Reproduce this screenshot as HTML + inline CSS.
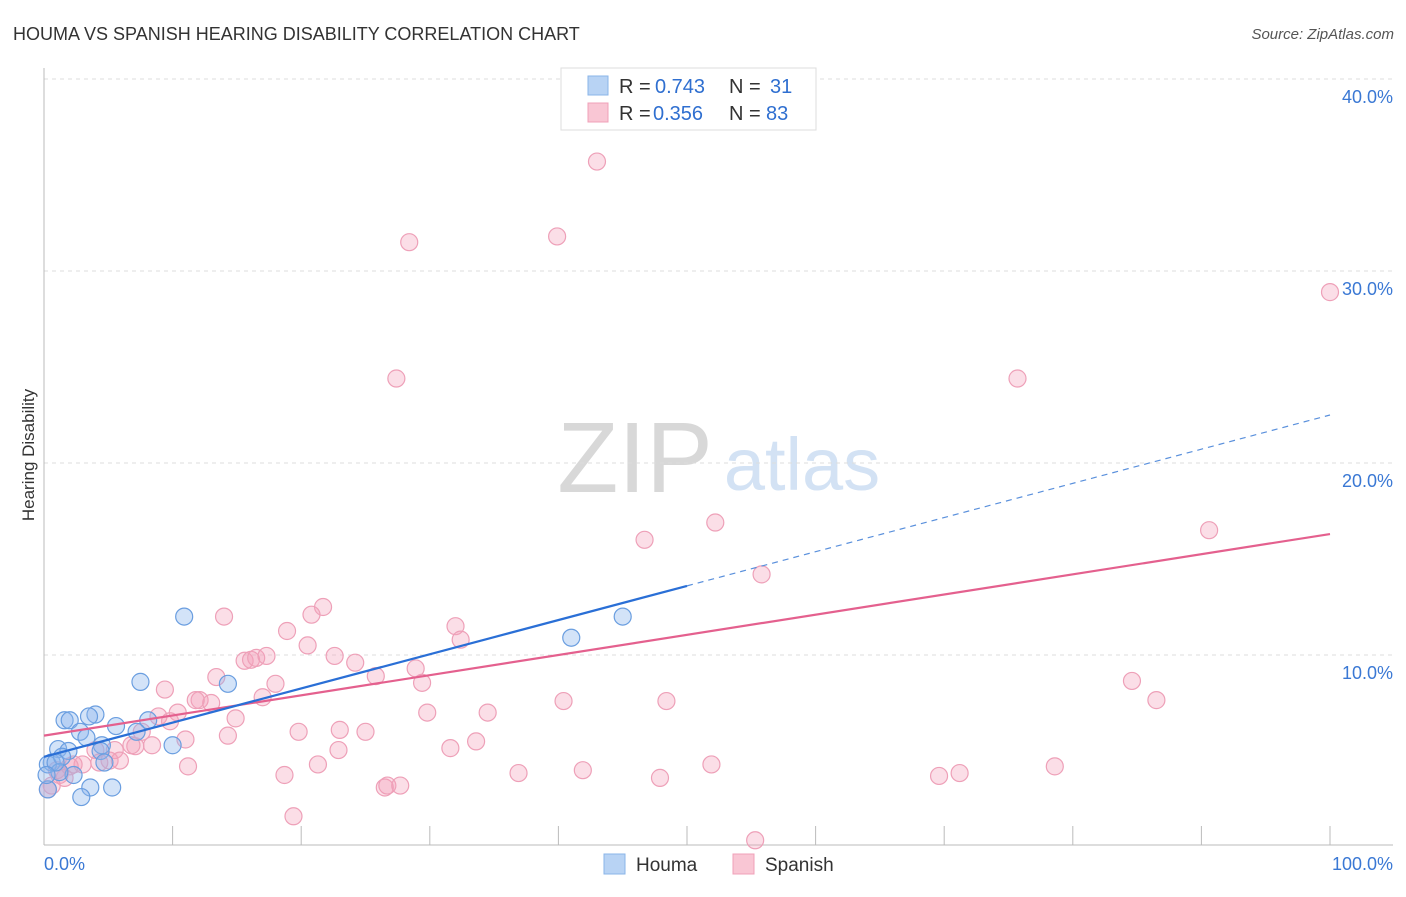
<!DOCTYPE html>
<html><head><meta charset="utf-8"><style>
body{margin:0;background:#fff;font-family:"Liberation Sans",sans-serif;}
svg text{font-family:"Liberation Sans",sans-serif;}
</style></head><body>
<svg id="c" width="1406" height="892" xmlns="http://www.w3.org/2000/svg">
<text x="13" y="40" font-size="18" fill="#333">HOUMA VS SPANISH HEARING DISABILITY CORRELATION CHART</text>
<text x="1394" y="39" font-size="15" fill="#555" font-style="italic" text-anchor="end">Source: ZipAtlas.com</text>
<text x="34" y="455" font-size="17" fill="#333" transform="rotate(-90 34 455)" text-anchor="middle">Hearing Disability</text>
<g><text x="635" y="492" font-size="100" fill="#d8d8d8" font-family="Liberation Serif" text-anchor="middle">ZIP</text><text x="802" y="490" font-size="74" fill="#d3e2f4" text-anchor="middle">atlas</text></g>
<g id="grid"></g><g id="axes"></g><g id="pts"></g><g id="lines"></g>
<g>
<rect x="561" y="68" width="255" height="62" fill="#fff" stroke="#ddd"/>
<rect x="588" y="76" width="20" height="19" fill="#b8d3f4" stroke="#8ab4e8"/>
<text x="619" y="93" font-size="20" fill="#333">R =</text>
<text x="655" y="93" font-size="20" fill="#2f6fd0">0.743</text>
<text x="729" y="93" font-size="20" fill="#333">N =</text>
<text x="770" y="93" font-size="20" fill="#2f6fd0">31</text>
<rect x="588" y="103" width="20" height="19" fill="#f9c6d4" stroke="#f0a0b8"/>
<text x="619" y="120" font-size="20" fill="#333">R =</text>
<text x="653" y="120" font-size="20" fill="#2f6fd0">0.356</text>
<text x="729" y="120" font-size="20" fill="#333">N =</text>
<text x="766" y="120" font-size="20" fill="#2f6fd0">83</text>
</g>
<g>
<rect x="604" y="854" width="21" height="20" fill="#b8d3f4" stroke="#8ab4e8"/>
<text x="636" y="871" font-size="19" fill="#333">Houma</text>
<rect x="733" y="854" width="21" height="20" fill="#f9c6d4" stroke="#f0a0b8"/>
<text x="765" y="871" font-size="19" fill="#333">Spanish</text>
</g>
</svg>
<script>
const yTicks=[10,20,30,40];
const yTickLabels=["10.0%","20.0%","30.0%","40.0%"];
const houmaX=[10.9,7.5,14.3,41.0,45.0,1.6,2.0,4.0,3.5,5.6,8.1,2.8,3.3,1.1,1.9,4.5,4.4,10.0,4.7,0.6,0.3,1.4,2.3,3.6,5.3,2.9,0.3,1.2,0.9,7.2,0.2];
const houmaY=[12.0,8.6,8.5,10.9,12.0,6.6,6.6,6.9,6.8,6.3,6.6,6.0,5.7,5.1,5.0,5.3,5.0,5.3,4.4,4.4,4.3,4.7,3.75,3.1,3.1,2.6,3.0,3.9,4.4,6.0,3.75];
const spanX=[43.0,28.4,39.9,100,27.4,75.7,52.2,46.7,90.6,55.8,14.0,21.7,20.8,32.0,32.4,18.9,20.5,22.6,15.6,16.1,16.5,17.3,24.2,28.9,25.8,13.4,9.4,18.0,29.4,17.0,12.1,13.0,11.8,84.6,86.5,40.4,48.4,14.9,29.8,34.5,10.4,8.9,9.8,11.0,14.3,19.8,23.0,25.0,22.9,31.6,33.6,7.6,8.4,7.1,6.8,5.5,4.0,5.1,4.3,3.0,2.3,11.2,18.7,21.3,36.9,41.9,47.9,51.9,69.6,71.2,78.6,26.5,26.7,27.7,19.4,55.3,1.0,1.2,0.6,0.3,2.0,5.9,1.6];
const spanY=[35.7,31.5,31.8,28.9,24.4,24.4,16.9,16.0,16.5,14.2,12.0,12.5,12.1,11.5,10.8,11.25,10.5,9.95,9.7,9.75,9.85,9.95,9.6,9.3,8.9,8.85,8.2,8.5,8.55,7.8,7.65,7.5,7.65,8.65,7.65,7.6,7.6,6.7,7.0,7.0,7.0,6.8,6.55,5.6,5.8,6.0,6.1,6.0,5.05,5.15,5.5,6.0,5.3,5.25,5.3,5.05,5.05,4.5,4.4,4.3,4.3,4.2,3.75,4.3,3.85,4.0,3.6,4.3,3.7,3.85,4.2,3.1,3.2,3.2,1.6,0.35,4.0,3.75,3.2,3.0,4.2,4.5,3.6];
const houmaFit=[4.7,22.5];
const spanFit=[5.8,16.3];
const NS="http://www.w3.org/2000/svg";
const X=v=>44+12.86*v, Y=v=>847-19.2*v;
function mk(t,a,p){const e=document.createElementNS(NS,t);for(const k in a)e.setAttribute(k,a[k]);p.appendChild(e);return e;}
const grid=document.getElementById('grid'),axes=document.getElementById('axes'),pts=document.getElementById('pts'),lines=document.getElementById('lines');
yTicks.forEach((t,i)=>{
 const g=mk('line',{x1:44,x2:1393,y1:Y(t),y2:Y(t),stroke:'#ddd','stroke-dasharray':'4,4'},grid);
 
 
 const l=mk('text',{x:1393,y:Y(t)+24,'font-size':18,fill:'#3a78d4','text-anchor':'end'},grid);l.textContent=yTickLabels[i];
 
 
});
const ya=mk('line',{x1:44,x2:44,y1:68,y2:845,stroke:'#bbb'},axes);


const xa=mk('line',{x1:44,x2:1393,y1:845,y2:845,stroke:'#bbb'},axes);


for(let t=10;t<=100;t+=10){const k=mk('line',{x1:X(t),x2:X(t),y1:826,y2:845,stroke:'#bbb'},axes);
 
 }
[[0,'0.0%','start',44],[100,'100.0%','end',1393]].forEach(d=>{const l=mk('text',{x:d[3],y:870,'font-size':18,fill:'#3a78d4','text-anchor':d[2]},axes);l.textContent=d[1];
 
 });
spanX.forEach((v,i)=>{const c=mk('circle',{cx:X(v),cy:Y(spanY[i]),r:8.5,fill:'rgba(244,160,185,0.35)',stroke:'#eea0b8','stroke-width':1.2},pts);
 
 });
houmaX.forEach((v,i)=>{const c=mk('circle',{cx:X(v),cy:Y(houmaY[i]),r:8.5,fill:'rgba(140,182,236,0.38)',stroke:'#6a9ee0','stroke-width':1.2},pts);
 
 });
const fy=(f,x)=>f[0]+(f[1]-f[0])*x/100;
const pl=mk('line',{x1:X(0),y1:Y(fy(spanFit,0)),x2:X(100),y2:Y(fy(spanFit,100)),stroke:'#e4608e','stroke-width':2.2},lines);


const bl=mk('line',{x1:X(0),y1:Y(fy(houmaFit,0)),x2:X(50),y2:Y(fy(houmaFit,50)),stroke:'#2a6fd6','stroke-width':2.2},lines);


const bd=mk('line',{x1:X(50),y1:Y(fy(houmaFit,50)),x2:X(100),y2:Y(fy(houmaFit,100)),stroke:'#5a90dc','stroke-width':1.2,'stroke-dasharray':'6,5'},lines);


</script>
</body></html>
